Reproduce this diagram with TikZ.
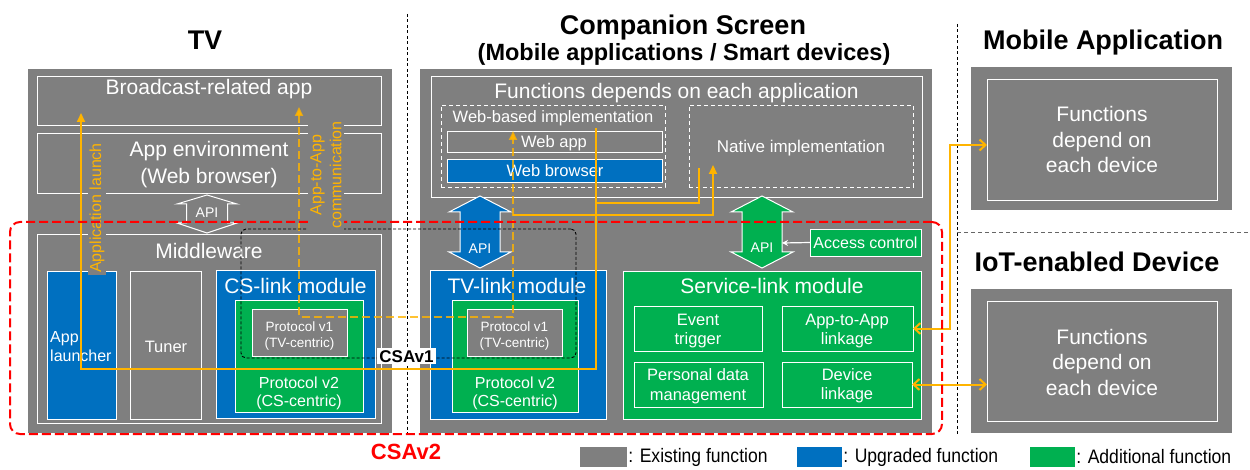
\documentclass[tikz,border=0pt]{standalone}
\usepackage{fontspec}
\setmainfont{Liberation Sans}
\newfontfamily\narrowfont[FakeStretch=0.9]{Liberation Sans}
\usetikzlibrary{arrows.meta,positioning,fit}

\definecolor{exgray}{RGB}{127,127,127}
\definecolor{upblue}{RGB}{0,112,192}
\definecolor{addgreen}{RGB}{0,176,80}
\definecolor{linkorange}{RGB}{255,180,0}
\definecolor{csred}{RGB}{255,0,0}

\tikzset{
  area/.style={fill=exgray, inner sep=0pt, outer sep=0pt},
  wbox/.style={draw=white, line width=0.9pt, inner sep=0pt, outer sep=0pt},
  dbox/.style={wbox, dash pattern=on 4pt off 3pt},
  wtext/.style={text=white, inner sep=0pt, align=center, anchor=base},
  ttl/.style={inner sep=0pt, anchor=base, font=\bfseries\fontsize{27}{30}\selectfont},
  sepline/.style={line width=0.8pt, dash pattern=on 3pt off 2.5pt},
  apiarrow/.style={draw=white, line width=1pt},
  launch/.style={draw=linkorange, line width=2pt},
  a2aline/.style={launch, dash pattern=on 8pt off 4pt, draw opacity=0.8},
  tip/.style={-{Triangle[width=8pt,length=9pt]}},
  barb/.style={{Straight Barb[width=11pt,length=6pt]}-{Straight Barb[width=11pt,length=6pt]}},
  lbl/.style={fill=exgray, text=linkorange, inner sep=2pt, rotate=90, align=center,
    font=\fontsize{16}{20}\selectfont},
}

\begin{document}
\begin{tikzpicture}[x=1pt,y=-1pt]
  \useasboundingbox (0,0) rectangle (1250,470);

  \node[ttl] (tvttl) at (205,50) {TV}; % 見出し
  \node[ttl] (csttl) at (683,35) {Companion Screen};
  \node[ttl, font=\bfseries\fontsize{23.5}{24}\selectfont] (cssub) at (684,61) {(Mobile applications / Smart devices)};
  \node[ttl] (mattl) at (1103,50) {Mobile Application};
  \node[ttl] (iotttl) at (1097,272) {IoT-enabled Device};

  \draw[sepline] (407,14) -- (407,434); % TVと端末の境界
  \draw[sepline] (957,24) -- (957,434); % 端末と外部機器の境界
  \draw[sepline, black!60, dash pattern=on 4pt off 3pt] (957,232) -- (1250,232);

  % TV
  \node[area, fit={(28,69) (392,433)}] (tv) {};
  \node[wbox, fit={(37,76) (381,125)}] (bcapp) {};
  \node[wtext, font=\fontsize{21}{27}\selectfont] (bcapptxt) at (209,95) {Broadcast-related app};
  \node[wbox, fit={(37,133) (381,193)}] (appenv) {};
  \node[wtext, font=\fontsize{21}{27}\selectfont] (appenvtxt) at (209,184) {App environment\\(Web browser)};
  \draw[apiarrow, fill=exgray] (207,195) -- (237,204) -- (227.5,204) -- (227.5,223) -- (237,223) -- (207,233)
    -- (177,223) -- (186.5,223) -- (186.5,204) -- (177,204) -- cycle; % API（既存）
  \node[wtext, font=\fontsize{14}{14}\selectfont] (tvapi) at (207,218) {API};
  \node[wbox, fit={(37,234) (381,423)}] (mw) {};
  \node[wtext, font=\fontsize{21}{27}\selectfont] (mwtxt) at (209,259) {Middleware};
  \node[wbox, fill=upblue, fit={(47,271) (116,419)}] (launcher) {};
  \node[wtext, align=left, anchor=base west, font=\fontsize{16}{19}\selectfont] (launchertxt) at (50,361) {App\\launcher};
  \node[wbox, fit={(130,271) (201,419)}] (tuner) {};
  \node[wtext, font=\fontsize{16.5}{19}\selectfont] (tunertxt) at (166,352) {Tuner};
  \node[wbox, fill=upblue, fit={(216,270) (375,418)}] (cslink) {};
  \node[wtext, font=\fontsize{21}{27}\selectfont] (cslinktxt) at (295.5,294) {CS-link module};
  \node[wbox, fill=addgreen, fit={(235,300) (363,412)}] (csproto2) {};
  \node[wtext, font=\fontsize{16}{18}\selectfont] (csproto2txt) at (299,406) {Protocol v2\\(CS-centric)};
  \node[wbox, fill=exgray, fit={(252,309) (347,356)}] (csproto1) {};
  \node[wtext, font=\fontsize{13.5}{16}\selectfont] (csproto1txt) at (299.5,347) {Protocol v1\\(TV-centric)};

  % Companion Screen
  \node[area, fit={(420,69) (932,433)}] (cs) {};
  \node[wbox, fit={(431,76) (922,197)}] (func) {};
  \node[wtext, font=\fontsize{21}{27}\selectfont] (functxt) at (676.5,99) {Functions depends on each application};
  \node[dbox, fit={(441,105) (665,187)}] (webimpl) {};
  \node[wtext, font=\fontsize{16.5}{19}\selectfont] (webimpltxt) at (553,123) {Web-based implementation};
  \node[wbox, fit={(447,131) (662,152)}] (webapp) {};
  \node[wtext, font=\fontsize{16.5}{19}\selectfont] (webapptxt) at (554,148) {Web app};
  \node[wbox, fill=upblue, fit={(447,159) (662,182)}] (browser) {};
  \node[wtext, font=\fontsize{16.5}{19}\selectfont] (browsertxt) at (555,177) {Web browser};
  \node[dbox, fit={(689,105) (913,187)}] (native) {};
  \node[wtext, font=\fontsize{17}{19}\selectfont] (nativetxt) at (801,153) {Native implementation};

  \draw[apiarrow, fill=upblue] (480,196) -- (511,212) -- (500,212) -- (500,252) -- (511,252) -- (480,268)
    -- (449,252) -- (460,252) -- (460,212) -- (449,212) -- cycle; % API（拡張）
  \node[wtext, font=\fontsize{14}{14}\selectfont] (tvlinkapi) at (480,254) {API};
  \draw[apiarrow, fill=addgreen] (762,196) -- (793,212) -- (782,212) -- (782,252) -- (793,252) -- (762,268)
    -- (731,252) -- (742,252) -- (742,212) -- (731,212) -- cycle; % API（追加）
  \node[wtext, font=\fontsize{14}{14}\selectfont] (svcapi) at (762,253) {API};
  \node[wbox, fill=addgreen, fit={(810,229) (921,256)}] (access) {};
  \node[wtext, font=\fontsize{16}{19}\selectfont] (accesstxt) at (865.5,249) {Access control};
  \coordinate (apiedge) at (782,243);
  \draw[white, line width=1.2pt, -{Stealth[length=6pt,width=6pt]}] (access.west) -- (apiedge);

  \node[wbox, fill=upblue, fit={(430,270) (606,419)}] (tvlink) {};
  \node[wtext, font=\fontsize{21}{27}\selectfont] (tvlinktxt) at (517,294) {TV-link module};
  \node[wbox, fill=addgreen, fit={(452,300) (578,412)}] (tvproto2) {};
  \node[wtext, font=\fontsize{16}{18}\selectfont] (tvproto2txt) at (515,406) {Protocol v2\\(CS-centric)};
  \node[wbox, fill=exgray, fit={(467,309) (562,356)}] (tvproto1) {};
  \node[wtext, font=\fontsize{13.5}{16}\selectfont] (tvproto1txt) at (514.5,347) {Protocol v1\\(TV-centric)};

  \node[wbox, fill=addgreen, fit={(623,271) (921,419)}] (svclink) {};
  \node[wtext, font=\fontsize{21}{27}\selectfont] (svclinktxt) at (772,294) {Service-link module};
  \node[wbox, fit={(634,306) (762,351)}] (event) {};
  \node[wtext, font=\fontsize{16.5}{19}\selectfont] (eventtxt) at (698,344) {Event\\trigger};
  \node[wbox, fit={(782,306) (913,351)}] (a2alink) {};
  \node[wtext, font=\fontsize{16.5}{19}\selectfont] (a2alinktxt) at (847,344) {App-to-App\\linkage};
  \node[wbox, fit={(634,362) (763,407)}] (pdm) {};
  \node[wtext, font=\fontsize{16.5}{20}\selectfont] (pdmtxt) at (698,400) {Personal data\\management};
  \node[wbox, fit={(782,362) (912,407)}] (devlink) {};
  \node[wtext, font=\fontsize{16.5}{19}\selectfont] (devlinktxt) at (847,399) {Device\\linkage};

  % Mobile Application / IoT
  \node[area, fit={(971,67) (1232,210)}] (mob) {};
  \node[wbox, fit={(987,79) (1217,200)}] (mobin) {};
  \node[wtext, font=\fontsize{21}{25.5}\selectfont] (mobtxt) at (1102,173) {Functions\\depend on\\each device};
  \node[area, fit={(971,289) (1232,433)}] (iot) {};
  \node[wbox, fit={(987,301) (1217,421)}] (iotin) {};
  \node[wtext, font=\fontsize{21}{25.5}\selectfont] (iottxt) at (1102,395) {Functions\\depend on\\each device};

  % 連携の矢印
  \node[lbl] (launchlbl) at (97,208) {Application launch};
  \coordinate (lsrc) at (596,128);
  \coordinate (nsrc) at (699,168);
  \coordinate (ljoin) at (596,203);
  \coordinate (lfoot) at (81,369);
  \coordinate (ltip) at (81,113);
  \draw[launch, tip] (lsrc) |- (lfoot) -- (ltip); % アプリ起動
  \draw[launch] (nsrc) |- (ljoin);
  \coordinate (atv) at (299,107);
  \coordinate (abot) at (513,317);
  \coordinate (aweb) at (513,131);
  \coordinate (ajoin) at (513,215);
  \coordinate (anat) at (713,165);
  \draw[a2aline, {Triangle[width=8pt,length=9pt]}-{Triangle[width=8pt,length=9pt]}] (atv) |- (abot) -- (aweb); % アプリ間通信
  \draw[launch, tip] (ajoin) -| (anat);
  \coordinate (rbend) at (950,145);
  \draw[launch, barb] (a2alink.east) -| (rbend) -- (rbend -| mobin.west);
  \draw[launch, barb] (devlink.east) -- (devlink.east -| iotin.west);

  % CSAv2 / CSAv1 の範囲
  \node[draw=csred, line width=2pt, dash pattern=on 9pt off 4pt, rounded corners=10pt, inner sep=0pt,
    fit={(10,222) (942,434)}] (csav2area) {};
  \node[draw=black, line width=0.9pt, dash pattern=on 3pt off 2pt, rounded corners=5pt, inner sep=0pt,
    fit={(241,229) (576,358)}] (csav1area) {};
  \node[lbl] (a2albl) at (326,175) {App-to-App\\communication};
  \node[fill=white, inner sep=2pt, anchor=base, font=\bfseries\fontsize{17}{17}\selectfont] (csav1) at (406.5,362) {CSAv1};
  \node[anchor=base, inner sep=0pt, text=csred, font=\bfseries\fontsize{22}{22}\selectfont] (csav2) at (406,459) {CSAv2};

  % 凡例
  \node[fill=exgray, inner sep=0pt, fit={(580,447) (627,467)}] (legex) {};
  \node[anchor=west, inner sep=1pt, font=\narrowfont\fontsize{19.5}{20}\selectfont] (legextxt) at (legex.east) {: Existing function};
  \node[fill=upblue, inner sep=0pt, fit={(797,447) (842,467)}] (legup) {};
  \node[anchor=west, inner sep=1pt, font=\narrowfont\fontsize{19.5}{20}\selectfont] (leguptxt) at (legup.east) {: Upgraded function};
  \node[fill=addgreen, inner sep=0pt, fit={(1030,447) (1075,467)}] (legadd) {};
  \node[anchor=west, inner sep=1pt, font=\narrowfont\fontsize{19.5}{20}\selectfont] (legaddtxt) at (legadd.east) {: Additional function};
\end{tikzpicture}
\end{document}
